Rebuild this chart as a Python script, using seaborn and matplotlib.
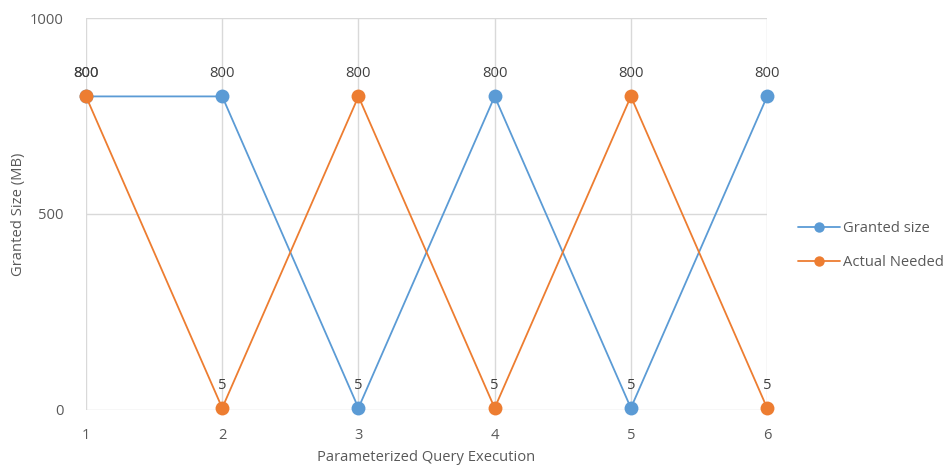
import matplotlib
matplotlib.use("Agg")
import matplotlib.pyplot as plt
import seaborn as sns
import pandas as pd

# chart data
executions = [1, 2, 3, 4, 5, 6]
granted_size = [800, 800, 5, 800, 5, 800]
actual_needed = [800, 5, 800, 5, 800, 5]
series_names = ["Granted size", "Actual Needed"]
y_ticks = [0, 500, 1000]

df = pd.DataFrame({
    "execution": executions * 2,
    "size": granted_size + actual_needed,
    "series": [series_names[0]] * 6 + [series_names[1]] * 6,
})

sns.set_style("white")
plt.rcParams["font.family"] = ["Open Sans", "DejaVu Sans"]
text_color = "#595959"
grid_color = "#d9d9d9"
palette = {series_names[0]: "#5B9BD5", series_names[1]: "#ED7D31"}
fs = 10.6

fig = plt.figure(figsize=(9.46, 4.68), dpi=100)
ax = fig.add_axes([0.0909, 0.124, 0.72, 0.8375])

sns.lineplot(data=df, x="execution", y="size", hue="series", palette=palette,
             marker="o", markersize=10, markeredgewidth=0, linewidth=1.3,
             ax=ax, zorder=3, clip_on=False)

# data labels
for name, vals in zip(series_names, [granted_size, actual_needed]):
    for x, v in zip(executions, vals):
        ax.annotate(str(v), (x, v), xytext=(0, 11), textcoords="offset points",
                    ha="center", va="bottom", fontsize=fs, color="#404040")

ax.set_xlim(1, 6)
ax.set_ylim(0, 1000)
ax.set_xticks(executions)
ax.set_yticks(y_ticks)
ax.grid(True, color=grid_color, linewidth=1)
ax.set_axisbelow(True)
for s in ax.spines.values():
    s.set_visible(False)
ax.tick_params(length=0, colors=text_color, labelsize=fs)
ax.tick_params(axis="x", pad=13)
ax.tick_params(axis="y", pad=16)
ax.set_xlabel("Parameterized Query Execution", color=text_color, fontsize=fs, labelpad=5)
ax.set_ylabel("Granted Size (MB)", color=text_color, fontsize=fs, labelpad=2.5)

leg = ax.legend(loc="center left", bbox_to_anchor=(1.045, 0.42), frameon=False,
                fontsize=fs, handlelength=2.9, handletextpad=0.2, labelspacing=1.3,
                borderaxespad=0, borderpad=0)
for t in leg.get_texts():
    t.set_color(text_color)
for h in leg.legend_handles:
    h.set_markersize(7.5)

fig.savefig("out.png", dpi=100)
